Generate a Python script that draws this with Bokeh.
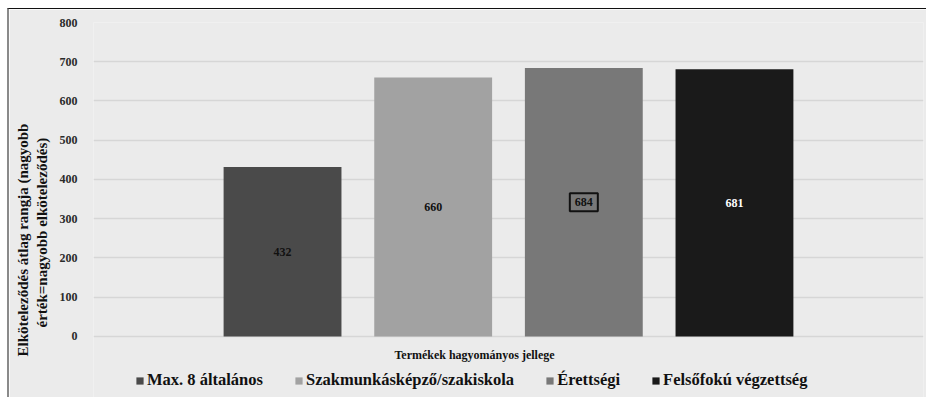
from bokeh.plotting import figure
from bokeh.models import (ColumnDataSource, FactorRange, Range1d, FixedTicker, Title,
                          Legend, LegendItem, Label)
from bokeh.transform import dodge
from bokeh.core.properties import value
from bokeh.embed import file_html
from bokeh.resources import INLINE

# ---- data ----
categories = ["Termékek hagyományos jellege"]
series = ["Max. 8 általános", "Szakmunkásképző/szakiskola", "Érettségi", "Felsőfokú végzettség"]
values = [432, 660, 684, 681]
bar_colors = ["#4a4a4a", "#a2a2a2", "#787878", "#1a1a1a"]
label_colors = ["#111111", "#111111", "#111111", "#ffffff"]
label_boxed = [0, 0, 1, 0]
y_ticks = [0, 100, 200, 300, 400, 500, 600, 700, 800]
y_title_lines = ["Elköteleződés átlag rangja (nagyobb", "érték=nagyobb elköteleződés)"]

FONT = "Liberation Serif"
BG = "#ebebeb"

# the frame runs to the bottom of the canvas so that the legend and the
# category title (drawn below the zero line) are not clipped
p = figure(width=919, height=389,
           x_range=FactorRange(factors=categories, range_padding=0),
           y_range=Range1d(-158, 800),
           output_backend="svg", toolbar_location=None,
           min_border_left=84, min_border_right=5,
           min_border_top=13, min_border_bottom=0)
p.styles = {"margin-left": "7px", "margin-top": "8px",
            "border-left": "2px solid #8a8a8a", "border-top": "1px solid #111111"}
p.background_fill_color = BG
p.border_fill_color = BG
p.outline_line_color = None

# axes
p.yaxis.ticker = FixedTicker(ticks=y_ticks)
p.yaxis.axis_line_color = None
p.yaxis.major_tick_line_color = None
p.yaxis.minor_tick_line_color = None
p.yaxis.major_label_text_font = FONT
p.yaxis.major_label_text_font_style = "bold"
p.yaxis.major_label_text_font_size = "12px"
p.yaxis.major_label_text_color = "#2a2a2a"
p.yaxis.major_label_standoff = 10
p.xaxis.visible = False

p.xgrid.grid_line_color = None
p.ygrid.grid_line_color = "#d6d6d6"
p.ygrid.grid_line_width = 1.5

spacing = 0.1815
bar_w = 0.142
items = []
for i, (s, v, c, lc, bx) in enumerate(zip(series, values, bar_colors, label_colors, label_boxed)):
    off = (i - (len(series) - 1) / 2) * spacing
    src = ColumnDataSource(dict(x=categories, top=[v], mid=[v / 2], lbl=[str(v)]))
    r = p.vbar(x=dodge("x", off, range=p.x_range), top="top", width=bar_w, source=src,
               fill_color=c, line_color=None)
    p.text(x=dodge("x", off, range=p.x_range), y="mid", text="lbl", source=src,
           text_align="center", text_baseline="middle",
           text_font=value(FONT), text_font_style="bold", text_font_size="12px",
           text_color=lc, border_line_color="#111111", border_line_alpha=bx,
           border_line_width=2, padding=5)
    items.append(LegendItem(label=s, renderers=[r]))

# y axis title: two rotated lines (nearest to the frame added first)
for line, off, so in zip(reversed(y_title_lines), [71, 42], [14, -12]):
    p.add_layout(Title(text=line, align="left", offset=off, standoff=so,
                       text_font=FONT, text_font_style="bold", text_font_size="15px",
                       text_color="#111111"), "left")

# x category title (below the zero line)
p.add_layout(Label(x=381, y=44, x_units="screen", y_units="screen",
                   text=categories[0], text_align="center", text_baseline="middle",
                   text_font=FONT, text_font_style="bold", text_font_size="12px",
                   text_color="#111111"))

lg = Legend(items=items, orientation="horizontal", location=(42, 8),
            label_text_font=FONT, label_text_font_style="bold",
            label_text_font_size="16.5px", label_text_color="#111111")
lg.background_fill_alpha = 0
lg.border_line_color = None
lg.padding = 0
lg.margin = 0
lg.spacing = 31
lg.glyph_width = 9
lg.glyph_height = 9
lg.label_standoff = 3
p.add_layout(lg)

open("out.html", "w").write(file_html(p, INLINE))
